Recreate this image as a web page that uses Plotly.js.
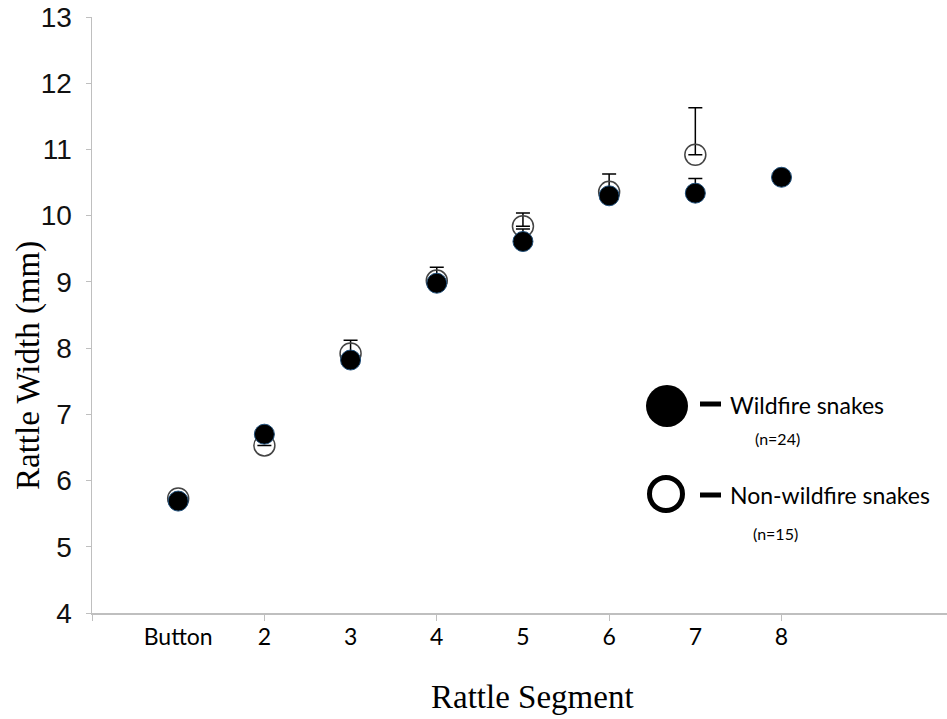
<!DOCTYPE html>
<html>
<head>
<meta charset="utf-8">
<script src="https://cdn.plot.ly/plotly-3.0.1.min.js"></script>
<style>html,body{margin:0;padding:0;background:#fff;}#chart{width:947px;height:719px;}</style>
</head>
<body>
<div id="chart"></div>
<script>
// Data
const segmentLabels = ["Button", "2", "3", "4", "5", "6", "7", "8"];
const segmentPos = [1, 2, 3, 4, 5, 6, 7, 8];
const wildfireWidth = [5.69, 6.70, 7.82, 8.98, 9.61, 10.30, 10.34, 10.58];
const wildfireErr = [0, 0, 0, 0, 0.19, 0, 0.22, 0];
const nonWildfirePos = [1, 2, 3, 4, 5, 6, 7];
const nonWildfireWidth = [5.73, 6.53, 7.92, 9.02, 9.84, 10.36, 10.92];
const nonWildfireErr = [0, 0, 0.20, 0.20, 0.20, 0.27, 0.71];
const xTickVals = [0, 2, 4, 6, 8];
const yTickVals = [4, 5, 6, 7, 8, 9, 10, 11, 12, 13];
const legendNames = ["Wildfire snakes", "Non-wildfire snakes"];
const legendCounts = ["(n=24)", "(n=15)"];
const xTitle = "Rattle Segment";
const yTitle = "Rattle Width (mm)";

const axisGray = "#BFBFBF";
const serif = "'Liberation Serif', 'Times New Roman', serif";
const sans = "Lato, 'Open Sans', sans-serif";

const traces = [
  {type: "scatter", mode: "markers", x: [], y: [], xaxis: "x2", yaxis: "y", showlegend: false, hoverinfo: "skip"},
  {
    type: "scatter", mode: "markers", x: nonWildfirePos, y: nonWildfireWidth,
    name: legendNames[1], showlegend: false,
    marker: {size: 21, color: "rgba(255,255,255,0)", line: {color: "#444444", width: 1.5}},
    error_y: {type: "data", symmetric: false, array: nonWildfireErr, arrayminus: nonWildfireErr.map(() => 0),
              color: "#000000", thickness: 1.5, width: 7}
  },
  {
    type: "scatter", mode: "markers", x: segmentPos, y: wildfireWidth,
    name: legendNames[0], showlegend: false,
    marker: {size: 20, color: "#000000", line: {color: "#1F4E79", width: 1}},
    error_y: {type: "data", symmetric: false, array: wildfireErr, arrayminus: wildfireErr.map(() => 0),
              color: "#000000", thickness: 1.5, width: 7}
  }
];

// legend geometry (paper coords)
const plotL = 92, plotW = 855, plotT = 17, plotH = 596;
const px = v => (v - plotL) / plotW;
const py = v => (plotT + plotH - v) / plotH;

const shapes = [
  {type: "circle", xref: "paper", yref: "paper", xsizemode: "pixel", ysizemode: "pixel",
   xanchor: px(667), yanchor: py(406), x0: -21, x1: 21, y0: -21, y1: 21,
   fillcolor: "#000000", line: {color: "#000000", width: 0}},
  {type: "line", xref: "paper", yref: "paper", xsizemode: "pixel", ysizemode: "pixel",
   xanchor: px(700), yanchor: py(404), x0: 0, x1: 21, y0: 0, y1: 0,
   line: {color: "#000000", width: 5}},
  {type: "circle", xref: "paper", yref: "paper", xsizemode: "pixel", ysizemode: "pixel",
   xanchor: px(666), yanchor: py(494), x0: -16.5, x1: 16.5, y0: -16.5, y1: 16.5,
   fillcolor: "rgba(255,255,255,0)", line: {color: "#000000", width: 5}},
  {type: "line", xref: "paper", yref: "paper", xsizemode: "pixel", ysizemode: "pixel",
   xanchor: px(700), yanchor: py(495), x0: 0, x1: 21, y0: 0, y1: 0,
   line: {color: "#000000", width: 5}}
];

const legFont = {family: sans, size: 23, color: "#000000"};
const nFont = {family: sans, size: 16, color: "#000000"};
const annotations = [
  {xref: "paper", yref: "paper", x: px(728), y: py(405), xanchor: "left", yanchor: "middle",
   text: legendNames[0], showarrow: false, font: legFont},
  {xref: "paper", yref: "paper", x: px(777), y: py(438), xanchor: "center", yanchor: "middle",
   text: legendCounts[0], showarrow: false, font: nFont},
  {xref: "paper", yref: "paper", x: px(728), y: py(495), xanchor: "left", yanchor: "middle",
   text: legendNames[1], showarrow: false, font: legFont},
  {xref: "paper", yref: "paper", x: px(775), y: py(533), xanchor: "center", yanchor: "middle",
   text: legendCounts[1], showarrow: false, font: nFont},
  {xref: "paper", yref: "paper", x: px(28), y: py(366), xanchor: "center", yanchor: "middle",
   text: yTitle, textangle: -90, showarrow: false,
   font: {family: serif, size: 33, color: "#000000"}},
  {xref: "paper", yref: "paper", x: px(532), y: py(697), xanchor: "center", yanchor: "middle",
   text: xTitle, showarrow: false,
   font: {family: serif, size: 33, color: "#000000"}}
];

const xRange = [0, 9.92];
const layout = {
  width: 947, height: 719,
  margin: {l: plotL, r: 0, t: plotT, b: 106},
  paper_bgcolor: "#ffffff", plot_bgcolor: "#ffffff",
  showlegend: false,
  xaxis: {
    range: xRange, tickmode: "array", tickvals: xTickVals, showticklabels: false,
    ticks: "outside", ticklen: 6, tickcolor: axisGray, tickwidth: 1,
    showline: true, linecolor: axisGray, linewidth: 1.5,
    showgrid: false, zeroline: false
  },
  xaxis2: {
    overlaying: "x", anchor: "y", side: "bottom", range: xRange,
    tickmode: "array", tickvals: segmentPos, ticktext: segmentLabels,
    ticks: "", showline: false, showgrid: false, zeroline: false,
    tickfont: {family: sans, size: 23, color: "#000000"},
    ticklabelstandoff: 8
  },
  yaxis: {
    range: [4, 13], tickmode: "array", tickvals: yTickVals,
    ticks: "outside", ticklen: 5, tickcolor: axisGray, tickwidth: 1,
    showline: true, linecolor: axisGray, linewidth: 1.5,
    showgrid: false, zeroline: false,
    tickfont: {family: "'Liberation Sans', Arial, sans-serif", size: 28, color: "#111111"},
    ticklabelstandoff: 8
  },
  shapes: shapes,
  annotations: annotations
};

Plotly.newPlot("chart", traces, layout, {displayModeBar: false, staticPlot: true});
</script>
</body>
</html>
